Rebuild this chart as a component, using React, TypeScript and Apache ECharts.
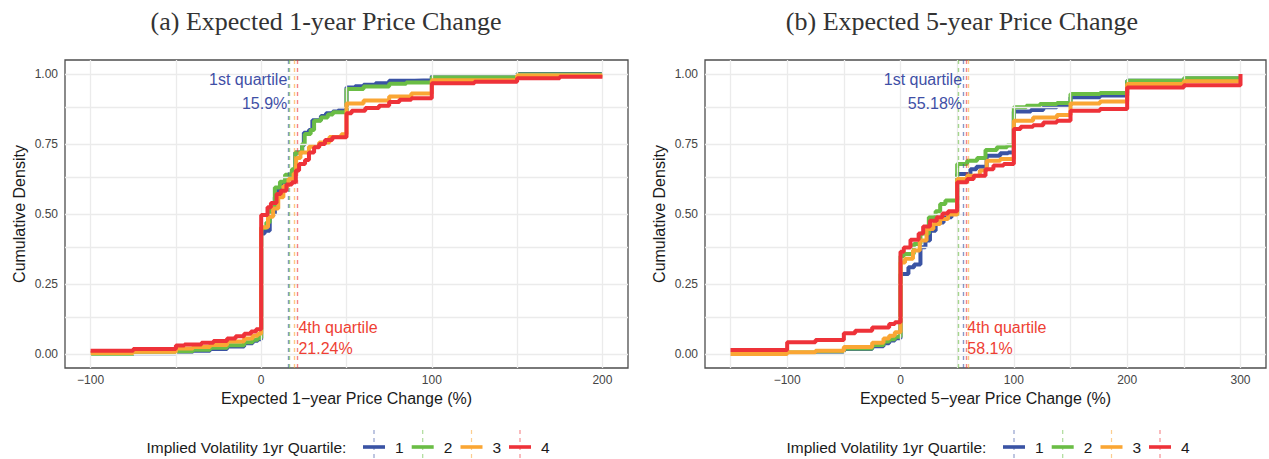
import React, { useEffect, useRef } from 'react';
import * as echarts from 'echarts';

// ---------- data ----------
const QUARTILES = ['1', '2', '3', '4'];
const COLORS = ['#3A53A4', '#6ABD45', '#FAA634', '#EE3239'];

const TITLE_1Y = '(a) Expected 1-year Price Change';
const TITLE_5Y = '(b) Expected 5-year Price Change';
const XNAME_1Y = 'Expected 1\u2212year Price Change (%)';
const XNAME_5Y = 'Expected 5\u2212year Price Change (%)';
const YNAME = 'Cumulative Density';
const LEGEND_TITLE = 'Implied Volatility 1yr Quartile:';

const X1_TICKS = [-100, 0, 100, 200];
const X1_GRID = [-100, -50, 0, 50, 100, 150, 200];
const X5_TICKS = [-100, 0, 100, 200, 300];
const X5_GRID = [-150, -100, -50, 0, 50, 100, 150, 200, 250, 300];
const Y_TICKS = [0, 0.25, 0.5, 0.75, 1];
const Y_GRID = [0, 0.125, 0.25, 0.375, 0.5, 0.625, 0.75, 0.875, 1];

// ECDF of 1-year expectations, by implied-vol quartile
const ecdf1y_q1 = [[-100, 0.0], [-75, 0.003], [-50, 0.008], [-40, 0.012], [-30, 0.018], [-20, 0.027], [-10, 0.038], [-5, 0.047], [-2, 0.053], [0, 0.43], [2, 0.44], [5, 0.5], [8, 0.56], [10, 0.59], [12, 0.61], [15, 0.635], [18, 0.655], [20, 0.72], [24, 0.745], [25, 0.79], [28, 0.8], [30, 0.835], [35, 0.85], [38, 0.86], [42, 0.866], [45, 0.87], [50, 0.952], [55, 0.956], [60, 0.962], [67, 0.967], [75, 0.976], [90, 0.978], [100, 0.993], [150, 1.0], [200, 1.0]];
const ecdf1y_q2 = [[-100, 0.0], [-75, 0.004], [-50, 0.01], [-40, 0.015], [-30, 0.022], [-20, 0.031], [-10, 0.042], [-5, 0.051], [-2, 0.057], [0, 0.45], [3, 0.47], [5, 0.52], [8, 0.595], [11, 0.615], [14, 0.64], [18, 0.66], [20, 0.72], [24, 0.75], [25.5, 0.786], [29, 0.8], [31, 0.833], [35, 0.845], [39, 0.855], [42, 0.863], [50, 0.946], [60, 0.955], [75, 0.965], [85, 0.97], [100, 0.988], [150, 0.998], [200, 0.998]];
const ecdf1y_q3 = [[-100, 0.004], [-75, 0.008], [-50, 0.02], [-40, 0.025], [-30, 0.032], [-20, 0.045], [-10, 0.055], [-5, 0.065], [-2, 0.072], [0, 0.453], [4, 0.49], [7, 0.52], [10, 0.56], [13, 0.6], [16, 0.625], [19, 0.645], [20.5, 0.7], [23, 0.72], [28, 0.74], [34, 0.755], [40, 0.775], [47, 0.785], [50, 0.895], [60, 0.905], [75, 0.92], [88, 0.93], [100, 0.978], [150, 0.995], [200, 0.995]];
const ecdf1y_q4 = [[-100, 0.012], [-75, 0.018], [-50, 0.03], [-45, 0.034], [-35, 0.04], [-28, 0.046], [-20, 0.055], [-15, 0.063], [-10, 0.072], [-6, 0.08], [-3, 0.088], [0, 0.496], [3.7, 0.524], [5.7, 0.539], [9, 0.571], [11.5, 0.583], [14.8, 0.605], [18, 0.613], [20.3, 0.655], [22.2, 0.679], [25.7, 0.693], [28, 0.72], [31, 0.738], [34, 0.75], [37.4, 0.764], [41.7, 0.774], [50, 0.86], [53, 0.869], [61, 0.879], [69, 0.887], [75, 0.9], [81, 0.908], [88, 0.913], [100, 0.967], [125, 0.972], [150, 0.985], [175, 0.99], [200, 0.99]];

// ECDF of 5-year expectations, by implied-vol quartile
const ecdf5y_q1 = [[-150, 0.0], [-100, 0.004], [-75, 0.008], [-50, 0.018], [-25, 0.028], [-15, 0.038], [-10, 0.048], [-5, 0.056], [0, 0.286], [7, 0.31], [12, 0.32], [17.6, 0.381], [22, 0.405], [26, 0.44], [31, 0.47], [38, 0.488], [45, 0.502], [50, 0.643], [61.7, 0.66], [67, 0.669], [76, 0.708], [88, 0.717], [95, 0.72], [100, 0.866], [115, 0.871], [126, 0.881], [138, 0.887], [150, 0.917], [176, 0.923], [200, 0.976], [250, 0.984], [300, 0.984]];
const ecdf5y_q2 = [[-150, 0.0], [-100, 0.005], [-75, 0.01], [-50, 0.02], [-25, 0.032], [-15, 0.045], [-10, 0.053], [-5, 0.062], [0, 0.35], [3, 0.357], [11.7, 0.393], [17.6, 0.43], [25, 0.488], [31, 0.51], [35, 0.536], [39.6, 0.548], [50, 0.679], [58.8, 0.69], [67.6, 0.7], [75, 0.729], [85, 0.738], [94, 0.745], [100, 0.881], [111, 0.887], [123, 0.893], [138, 0.896], [150, 0.929], [176, 0.932], [200, 0.976], [250, 0.985], [300, 0.985]];
const ecdf5y_q3 = [[-150, 0.0], [-100, 0.006], [-75, 0.012], [-50, 0.025], [-25, 0.04], [-15, 0.055], [-10, 0.065], [-5, 0.078], [0, 0.327], [4, 0.34], [11, 0.37], [17, 0.405], [23, 0.446], [29, 0.464], [35, 0.482], [42, 0.498], [50, 0.625], [58.8, 0.637], [70, 0.655], [76, 0.69], [88, 0.696], [100, 0.833], [117, 0.845], [138, 0.854], [150, 0.895], [176, 0.902], [200, 0.964], [250, 0.974], [300, 0.974]];
const ecdf5y_q4 = [[-150, 0.014], [-100, 0.042], [-75, 0.05], [-50, 0.074], [-40, 0.083], [-25, 0.095], [-10, 0.107], [-5, 0.113], [0, 0.365], [2.9, 0.38], [8.8, 0.408], [16, 0.43], [20, 0.455], [26, 0.476], [32, 0.488], [37, 0.502], [42, 0.51], [50, 0.613], [58.8, 0.625], [64.6, 0.637], [75, 0.66], [82, 0.673], [91, 0.679], [100, 0.804], [106, 0.812], [117, 0.817], [126, 0.827], [138, 0.833], [150, 0.869], [176, 0.875], [200, 0.952], [250, 0.96], [300, 1.0]];

// mean (vertical line) per quartile
const VLINE_1Y = [15.9, 16.3, 19.2, 21.24];
const VLINE_5Y = [55.18, 50.9, 59.6, 58.1];
const Q1_LABEL = '1st quartile';
const Q4_LABEL = '4th quartile';

const SANS = '"Liberation Sans", Arial, Helvetica, sans-serif';
const SERIF = '"Liberation Serif", "DejaVu Serif", serif';

function fmtX(v: number) {
  return v < 0 ? '\u2212' + Math.abs(v) : String(v);
}

function panel(idx: number, xmin: number, xmax: number, xticks: number[], xgrid: number[], xname: string, data: number[][][], vlines: number[]) {
  const xAxis = {
    type: 'value', gridIndex: idx, min: xmin, max: xmax,
    name: xname, nameLocation: 'middle', nameGap: 21,
    nameTextStyle: { fontSize: 16, color: '#1A1A1A', fontFamily: SANS },
    axisLine: { show: false },
    axisTick: { show: true, customValues: xticks, length: 4, lineStyle: { color: '#333', width: 1 } },
    axisLabel: { customValues: xticks, formatter: fmtX, fontSize: 12, color: '#444', margin: 6, fontFamily: SANS },
    splitLine: { show: false },
  };
  const yAxis = {
    type: 'value', gridIndex: idx, min: -0.05, max: 1.05,
    name: YNAME, nameLocation: 'middle', nameGap: 38,
    nameTextStyle: { fontSize: 16, color: '#1A1A1A', fontFamily: SANS },
    axisLine: { show: false },
    axisTick: { show: true, customValues: Y_TICKS, length: 4, lineStyle: { color: '#333', width: 1 } },
    axisLabel: { customValues: Y_TICKS, formatter: (v: number) => v.toFixed(2), fontSize: 12, color: '#444', margin: 7, fontFamily: SANS },
    splitLine: { show: false },
  };
  const series: any[] = [];
  series.push({
    type: 'line', xAxisIndex: idx, yAxisIndex: idx, data: [], z: 1, silent: true,
    markLine: {
      silent: true, symbol: 'none', label: { show: false }, animation: false,
      lineStyle: { color: '#EBEBEB', width: 1.3, type: 'solid' },
      data: [...xgrid.map((v) => ({ xAxis: v })), ...Y_GRID.map((v) => ({ yAxis: v }))],
    },
  });
  data.forEach((d, i) => {
    series.push({
      name: QUARTILES[i], type: 'line', step: 'end', xAxisIndex: idx, yAxisIndex: idx,
      data: d, showSymbol: false, symbol: 'none', z: 3 + i,
      lineStyle: { color: COLORS[i], width: 4 }, itemStyle: { color: COLORS[i] },
    });
  });
  series.push({
    type: 'line', xAxisIndex: idx, yAxisIndex: idx, data: [], z: 10, silent: true,
    markLine: {
      silent: true, symbol: 'none', label: { show: false }, animation: false,
      data: vlines.map((v, i) => ({ xAxis: v, lineStyle: { color: COLORS[i], opacity: 0.6, width: 1.4, type: [4, 4] } })),
    },
  });
  const blueTxt = { color: '#3F4FA6', fontSize: 16, fontFamily: SANS, opacity: 1 };
  const redTxt = { color: '#EE3F34', fontSize: 16, fontFamily: SANS, opacity: 1 };
  series.push({
    type: 'scatter', xAxisIndex: idx, yAxisIndex: idx, symbolSize: 0, z: 11, silent: true,
    itemStyle: { opacity: 1 },
    data: [
      { value: [vlines[0], 0.979], label: { show: true, position: 'left', distance: 1, formatter: Q1_LABEL, ...blueTxt } },
      { value: [vlines[0], 0.893], label: { show: true, position: 'left', distance: 1, formatter: vlines[0] + '%', ...blueTxt } },
      { value: [vlines[3], 0.096], label: { show: true, position: 'right', distance: 1, formatter: Q4_LABEL, ...redTxt } },
      { value: [vlines[3], 0.018], label: { show: true, position: 'right', distance: 1, formatter: vlines[3] + '%', ...redTxt } },
    ],
  });
  return { xAxis, yAxis, series };
}

function legendGraphics(off: number) {
  const els: any[] = [];
  els.push({ type: 'text', x: 146.5 + off, y: 447, style: { text: LEGEND_TITLE, fontSize: 15.5, fill: '#1A1A1A', fontFamily: SANS, verticalAlign: 'middle', align: 'left' } });
  const keyX = [363, 411.7, 460.5, 509];
  QUARTILES.forEach((q, i) => {
    const x0 = keyX[i] + off;
    els.push({ type: 'line', shape: { x1: x0 + 11, y1: 430, x2: x0 + 11, y2: 459 }, style: { stroke: COLORS[i], opacity: 0.55, lineWidth: 1.2, lineDash: [4, 4] } });
    els.push({ type: 'line', shape: { x1: x0, y1: 447, x2: x0 + 22, y2: 447 }, style: { stroke: COLORS[i], lineWidth: 3.6 } });
    els.push({ type: 'text', x: x0 + 32, y: 447, style: { text: q, fontSize: 15.5, fill: '#1A1A1A', fontFamily: SANS, verticalAlign: 'middle', align: 'left' } });
  });
  return els;
}

export default function App() {
  const ref = useRef<HTMLDivElement>(null);
  useEffect(() => {
    const chart = echarts.init(ref.current!, null, { renderer: 'svg' });
    const p1 = panel(0, -115, 215, X1_TICKS, X1_GRID, XNAME_1Y, [ecdf1y_q1, ecdf1y_q2, ecdf1y_q3, ecdf1y_q4], VLINE_1Y);
    const p2 = panel(1, -172.5, 322.5, X5_TICKS, X5_GRID, XNAME_5Y, [ecdf5y_q1, ecdf5y_q2, ecdf5y_q3, ecdf5y_q4], VLINE_5Y);
    chart.setOption({
      animation: false,
      backgroundColor: '#fff',
      title: [
        { text: TITLE_1Y, left: 321, top: 3, textAlign: 'center', textStyle: { fontFamily: SERIF, fontSize: 26, fontWeight: 'normal', color: '#333' } },
        { text: TITLE_5Y, left: 957, top: 3, textAlign: 'center', textStyle: { fontFamily: SERIF, fontSize: 26, fontWeight: 'normal', color: '#333' } },
      ],
      grid: [
        { left: 65, top: 60, width: 563, height: 308, show: true, borderColor: '#4D4D4D', borderWidth: 1.3, backgroundColor: 'transparent' },
        { left: 705, top: 60, width: 561, height: 308, show: true, borderColor: '#4D4D4D', borderWidth: 1.3, backgroundColor: 'transparent' },
      ],
      xAxis: [p1.xAxis, p2.xAxis],
      yAxis: [p1.yAxis, p2.yAxis],
      series: [...p1.series, ...p2.series],
      graphic: [...legendGraphics(0), ...legendGraphics(640)],
    });
    return () => chart.dispose();
  }, []);
  return <div ref={ref} style={{ position: 'fixed', left: 0, top: 0, width: 1269, height: 459, background: '#fff' }} />;
}
